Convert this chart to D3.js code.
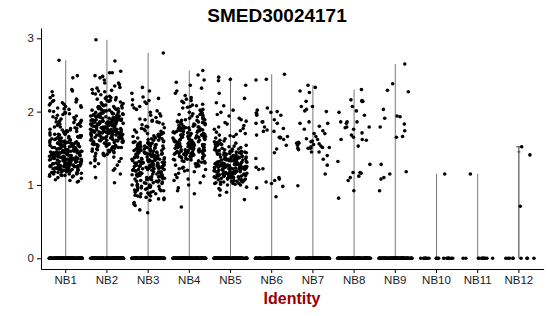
<!DOCTYPE html>
<html><head><meta charset="utf-8">
<script src="https://cdn.jsdelivr.net/npm/d3@7"></script>
<style>body{margin:0;background:#fff}svg{display:block}</style>
</head><body><svg id="c" width="550" height="316"></svg>
<script>
const title = "SMED30024171";
const xTitle = "Identity";
const categories = ["NB1","NB2","NB3","NB4","NB5","NB6","NB7","NB8","NB9","NB10","NB11","NB12"];
const yTicks = [0,1,2,3];
// number of cells with zero expression per identity
const zeroCounts = [160,160,160,150,150,140,140,130,120,20,12,9];
// non-zero expression values per identity
const nb1 = [1.04,1.05,1.06,1.07,1.09,
1.10,1.11,1.12,1.12,1.13,1.13,1.14,1.14,1.15,1.15,1.16,1.16,1.17,1.17,1.18,1.18,1.18,1.19,1.19,1.19,1.15,1.17,1.19,
1.20,1.20,1.20,1.21,1.21,1.21,1.21,1.22,1.22,1.22,1.22,1.23,1.23,1.23,1.23,1.24,1.24,1.24,1.24,1.25,1.25,1.25,1.25,1.26,1.26,1.26,1.26,1.27,1.27,1.27,1.27,1.28,1.28,1.28,1.28,1.29,1.29,1.29,1.29,1.20,1.22,1.24,1.26,1.28,1.25,
1.30,1.30,1.30,1.30,1.31,1.31,1.31,1.31,1.32,1.32,1.32,1.32,1.33,1.33,1.33,1.33,1.34,1.34,1.34,1.34,1.35,1.35,1.35,1.35,1.35,1.36,1.36,1.36,1.36,1.37,1.37,1.37,1.37,1.38,1.38,1.38,1.38,1.39,1.39,1.39,1.39,1.33,1.35,1.37,1.31,
1.40,1.40,1.40,1.40,1.41,1.41,1.41,1.41,1.42,1.42,1.42,1.42,1.43,1.43,1.43,1.43,1.44,1.44,1.44,1.44,1.45,1.45,1.45,1.45,1.45,1.46,1.46,1.46,1.46,1.47,1.47,1.47,1.47,1.48,1.48,1.48,1.48,1.49,1.49,1.49,1.49,1.42,1.44,1.46,1.48,
1.50,1.50,1.50,1.51,1.51,1.51,1.52,1.52,1.52,1.53,1.53,1.53,1.54,1.54,1.54,1.55,1.55,1.55,1.56,1.56,1.56,1.57,1.57,1.57,1.58,1.58,1.58,1.59,1.59,1.59,1.51,1.53,1.55,1.57,1.59,
1.60,1.60,1.61,1.61,1.62,1.62,1.63,1.63,1.64,1.64,1.65,1.65,1.66,1.66,1.67,1.67,1.68,1.68,1.69,1.69,1.61,1.63,1.65,1.67,1.69,
1.70,1.71,1.71,1.72,1.73,1.73,1.74,1.75,1.75,1.76,1.77,1.77,1.78,1.79,1.79,1.72,
1.80,1.81,1.82,1.83,1.84,1.85,1.86,1.87,1.88,1.89,1.83,1.86,
1.90,1.91,1.92,1.93,1.94,1.95,1.96,1.97,1.98,1.99,
2.00,2.01,2.03,2.04,2.05,2.06,2.07,2.08,2.09,
2.10,2.11,2.12,2.13,2.14,2.15,2.16,2.17,2.19,
2.22,2.27,2.28,2.30,2.46,2.49,2.70];
const nb2 = [1.03,1.10,1.15,1.20,1.22,
1.25,1.27,1.29,1.30,1.32,1.33,1.35,1.36,1.38,1.39,
1.40,1.41,1.42,1.43,1.43,1.44,1.45,1.46,1.46,1.47,1.48,1.48,1.49,1.49,
1.50,1.50,1.51,1.51,1.52,1.52,1.53,1.53,1.53,1.54,1.54,1.55,1.55,1.55,1.56,1.56,1.57,1.57,1.57,1.58,1.58,1.59,1.59,1.54,1.56,
1.60,1.60,1.60,1.61,1.61,1.61,1.62,1.62,1.62,1.63,1.63,1.63,1.64,1.64,1.64,1.65,1.65,1.65,1.66,1.66,1.66,1.67,1.67,1.67,1.68,1.68,1.68,1.69,1.69,1.69,1.61,1.63,1.65,1.67,1.69,
1.70,1.70,1.70,1.70,1.71,1.71,1.71,1.71,1.72,1.72,1.72,1.72,1.73,1.73,1.73,1.73,1.74,1.74,1.74,1.74,1.75,1.75,1.75,1.75,1.76,1.76,1.76,1.76,1.77,1.77,1.77,1.77,1.78,1.78,1.78,1.78,1.79,1.79,1.79,1.79,
1.80,1.80,1.80,1.80,1.81,1.81,1.81,1.81,1.82,1.82,1.82,1.82,1.83,1.83,1.83,1.83,1.84,1.84,1.84,1.84,1.85,1.85,1.85,1.85,1.86,1.86,1.86,1.86,1.87,1.87,1.87,1.87,1.88,1.88,1.88,1.88,1.89,1.89,1.89,1.89,
1.90,1.90,1.90,1.91,1.91,1.91,1.92,1.92,1.92,1.93,1.93,1.93,1.94,1.94,1.94,1.95,1.95,1.95,1.96,1.96,1.96,1.97,1.97,1.97,1.98,1.98,1.98,1.99,1.99,1.99,
2.00,2.00,2.01,2.01,2.02,2.02,2.03,2.03,2.04,2.04,2.05,2.05,2.06,2.06,2.07,2.07,2.08,2.08,2.09,2.09,
2.10,2.11,2.12,2.13,2.14,2.15,2.15,2.16,2.17,2.18,2.19,2.19,
2.20,2.21,2.23,2.24,2.25,2.27,2.28,2.29,
2.30,2.32,2.33,2.35,2.37,2.39,
2.39,2.43,2.46,2.48,2.49,2.53,2.53,2.55,2.69,2.98];
const nb3 = [0.62,0.66,0.72,0.74,0.76,0.79,
0.80,0.81,0.82,0.83,0.84,0.85,0.86,0.87,0.88,0.89,0.85,0.88,
0.90,0.90,0.91,0.92,0.92,0.93,0.94,0.94,0.95,0.96,0.96,0.97,0.98,0.98,0.99,0.99,0.93,0.97,
1.00,1.00,1.01,1.02,1.02,1.03,1.04,1.04,1.05,1.05,1.06,1.07,1.07,1.08,1.08,1.09,1.09,1.06,1.03,
1.10,1.10,1.11,1.11,1.12,1.12,1.13,1.13,1.14,1.14,1.15,1.15,1.15,1.16,1.16,1.17,1.17,1.18,1.18,1.19,1.19,1.12,1.14,1.16,1.18,
1.20,1.20,1.20,1.21,1.21,1.21,1.22,1.22,1.22,1.23,1.23,1.23,1.24,1.24,1.24,1.25,1.25,1.25,1.26,1.26,1.26,1.27,1.27,1.27,1.28,1.28,1.28,1.29,1.29,1.29,1.21,1.23,1.25,1.27,1.29,
1.30,1.30,1.30,1.31,1.31,1.31,1.32,1.32,1.32,1.33,1.33,1.33,1.34,1.34,1.34,1.35,1.35,1.35,1.36,1.36,1.36,1.37,1.37,1.37,1.38,1.38,1.38,1.39,1.39,1.39,1.30,1.32,1.34,1.35,1.36,1.38,1.31,1.33,
1.40,1.40,1.40,1.41,1.41,1.41,1.42,1.42,1.42,1.43,1.43,1.43,1.44,1.44,1.44,1.45,1.45,1.45,1.46,1.46,1.46,1.47,1.47,1.47,1.48,1.48,1.48,1.49,1.49,1.49,1.42,1.47,
1.50,1.50,1.51,1.51,1.52,1.52,1.53,1.53,1.54,1.54,1.55,1.55,1.55,1.56,1.56,1.57,1.57,1.58,1.58,1.59,1.59,1.51,1.53,1.56,1.58,
1.60,1.61,1.61,1.62,1.63,1.63,1.64,1.65,1.65,1.66,1.67,1.67,1.68,1.69,1.69,1.64,
1.70,1.71,1.72,1.73,1.74,1.75,1.76,1.77,1.78,1.79,
1.80,1.82,1.83,1.85,1.86,1.88,1.89,1.87,
1.90,1.92,1.94,1.95,1.97,1.99,
2.01,2.03,2.05,2.07,2.09,
2.11,2.13,2.15,2.16,2.18,
2.20,2.25,2.28,2.33,2.80];
const nb4 = [0.70,0.88,0.92,0.96,1.00,1.03,
1.06,1.08,1.10,1.12,1.14,1.16,1.18,1.19,
1.20,1.21,1.22,1.23,1.24,1.25,1.26,1.27,1.28,1.29,
1.30,1.30,1.31,1.31,1.32,1.32,1.33,1.33,1.34,1.34,1.35,1.35,1.36,1.36,1.37,1.37,1.38,1.38,1.39,1.39,
1.40,1.40,1.40,1.41,1.41,1.41,1.42,1.42,1.42,1.43,1.43,1.43,1.44,1.44,1.44,1.45,1.45,1.45,1.46,1.46,1.46,1.47,1.47,1.47,1.48,1.48,1.48,1.49,1.49,1.49,
1.50,1.50,1.50,1.51,1.51,1.51,1.52,1.52,1.52,1.53,1.53,1.53,1.54,1.54,1.54,1.55,1.55,1.55,1.56,1.56,1.56,1.57,1.57,1.57,1.58,1.58,1.58,1.59,1.59,1.59,1.53,1.57,
1.60,1.60,1.60,1.61,1.61,1.61,1.62,1.62,1.62,1.63,1.63,1.63,1.64,1.64,1.64,1.65,1.65,1.65,1.66,1.66,1.66,1.67,1.67,1.67,1.68,1.68,1.68,1.69,1.69,1.69,
1.70,1.70,1.71,1.71,1.72,1.72,1.73,1.73,1.74,1.74,1.75,1.75,1.75,1.76,1.76,1.77,1.77,1.78,1.78,1.79,1.79,1.72,1.74,1.76,1.78,
1.80,1.80,1.81,1.82,1.82,1.83,1.84,1.84,1.85,1.86,1.86,1.87,1.88,1.88,1.89,1.89,1.83,1.85,
1.90,1.91,1.92,1.93,1.94,1.95,1.96,1.97,1.98,1.99,1.92,1.96,
2.00,2.02,2.03,2.05,2.06,2.07,2.08,2.09,
2.10,2.12,2.14,2.15,2.17,2.19,
2.22,2.25,2.28,2.32,2.36,2.40,2.43,2.50,2.56];
const nb5 = [0.80,0.86,0.90,0.93,0.95,0.97,
1.00,1.00,1.01,1.01,1.02,1.02,1.03,1.03,1.04,1.04,1.05,1.05,1.05,1.06,1.06,1.07,1.07,1.08,1.08,1.09,1.09,1.02,1.04,1.06,1.08,
1.10,1.10,1.10,1.10,1.11,1.11,1.11,1.11,1.12,1.12,1.12,1.12,1.13,1.13,1.13,1.13,1.14,1.14,1.14,1.14,1.15,1.15,1.15,1.15,1.16,1.16,1.16,1.16,1.17,1.17,1.17,1.17,1.18,1.18,1.18,1.18,1.19,1.19,1.19,1.19,
1.20,1.20,1.20,1.20,1.21,1.21,1.21,1.21,1.22,1.22,1.22,1.22,1.23,1.23,1.23,1.23,1.24,1.24,1.24,1.24,1.25,1.25,1.25,1.25,1.26,1.26,1.26,1.26,1.27,1.27,1.27,1.27,1.28,1.28,1.28,1.28,1.29,1.29,1.29,1.29,1.23,1.27,
1.30,1.30,1.30,1.31,1.31,1.31,1.32,1.32,1.32,1.33,1.33,1.33,1.34,1.34,1.34,1.35,1.35,1.35,1.36,1.36,1.36,1.37,1.37,1.37,1.38,1.38,1.38,1.39,1.39,1.39,1.31,1.32,1.33,1.34,1.35,1.36,1.37,1.38,
1.40,1.40,1.41,1.41,1.42,1.42,1.43,1.43,1.44,1.44,1.45,1.45,1.45,1.46,1.46,1.47,1.47,1.48,1.48,1.49,1.49,1.42,1.44,1.46,1.48,
1.50,1.51,1.51,1.52,1.53,1.54,1.54,1.55,1.56,1.57,1.57,1.58,1.59,1.55,
1.60,1.61,1.63,1.64,1.66,1.67,1.68,1.69,
1.70,1.72,1.74,1.76,1.77,1.79,
1.81,1.83,1.85,1.87,1.89,
1.91,1.94,1.96,1.99,
2.02,2.08,2.12,2.18,
2.25,2.36,2.42,2.44,2.47];
const nb6 = [2.51,2.44,2.43,2.05,1.99,1.95,2.00,1.98,1.86,1.84,1.79,1.73,1.89,1.77,1.68,2.02,1.97,1.95,1.86,1.73,1.66,1.64,1.65,1.62,1.54,1.49,1.44,1.36,1.21,1.22,1.24,1.08,1.06,1.04,1.02,0.98,1.10,0.96,0.84,1.75,1.84,1.65];
const nb7 = [2.36,2.33,2.28,2.26,2.14,2.07,2.07,2.03,2.01,2.00,1.84,1.80,1.76,1.74,1.86,1.84,1.70,1.70,1.62,1.60,1.59,1.58,1.56,1.55,1.57,1.53,1.52,1.50,1.54,1.51,1.48,1.45,1.50,1.50,1.51,1.45,1.40,1.35,1.27,1.15,0.99,1.63,1.57,1.66];
const nb8 = [2.30,2.14,2.16,2.07,2.01,2.14,2.15,1.99,1.95,1.86,1.86,1.86,1.84,1.76,1.79,1.79,1.78,1.71,1.68,1.65,1.61,1.62,1.62,1.53,1.32,1.28,1.17,1.16,1.17,1.10,1.06,1.12,0.92,0.82];
const nb9 = [2.65,2.29,2.27,2.38,2.03,1.91,1.83,1.79,1.93,1.94,1.74,1.66,1.65,1.28,1.18,1.15,1.08,1.10,0.92];
const nb10 = [1.15];
const nb11 = [1.15];
const nb12 = [1.52,1.41,0.71];
const seriesValues = [nb1,nb2,nb3,nb4,nb5,nb6,nb7,nb8,nb9,nb10,nb11,nb12];

const svg = d3.select("#c");
const font = "'Liberation Sans', Arial, Helvetica, sans-serif";
const x = d3.scaleBand().domain(categories).range([41, 543.6]).paddingInner(0).paddingOuter(0.1);
const y = d3.scaleLinear().domain([-0.146, 3.14]).range([269, 28]);
const jw = x.bandwidth() * 0.4;
function hash(i, g) { const s = Math.sin(i * 12.9898 + g * 78.233 + 1.7) * 43758.5453; return s - Math.floor(s); }
const cx = c => x(c) + x.bandwidth() / 2;

// range lines
const lines = svg.append("g");
categories.forEach((c, g) => {
  const mx = d3.max(seriesValues[g]);
  lines.append("line").attr("x1", cx(c)).attr("x2", cx(c)).attr("y1", y(0)).attr("y2", y(mx))
    .attr("stroke", g === 11 ? "#333" : "#777").attr("stroke-width", 1);
  if (g === 11) {
    lines.append("line").attr("x1", cx(c) - 2.5).attr("x2", cx(c) + 2.5).attr("y1", y(mx)).attr("y2", y(mx)).attr("stroke", "#333");
    lines.append("line").attr("x1", cx(c) - 1.5).attr("x2", cx(c) + 1.5).attr("y1", y(1.45)).attr("y2", y(1.45)).attr("stroke", "#333");
  }
});

// points
const pts = [];
categories.forEach((c, g) => {
  for (let i = 0; i < zeroCounts[g]; i++) pts.push({c, v: 0, j: hash(i + 1000, g + 1)});
  seriesValues[g].forEach((v, i) => pts.push({c, v, j: hash(i, g + 1)}));
});
svg.append("g").selectAll("circle").data(pts).join("circle")
  .attr("cx", d => cx(d.c) + (d.j * 2 - 1) * jw)
  .attr("cy", d => y(d.v))
  .attr("r", 1.8).attr("fill", "#000");

// axes
const gx = svg.append("g").attr("transform", "translate(0,269)")
  .call(d3.axisBottom(x).tickSize(4).tickSizeOuter(0).tickPadding(3));
const gy = svg.append("g").attr("transform", "translate(41,0)")
  .call(d3.axisLeft(y).tickValues(yTicks).tickFormat(d3.format("d")).tickSize(4).tickSizeOuter(0).tickPadding(3));
[gx, gy].forEach(g => {
  g.select(".domain").attr("stroke", "#000").attr("stroke-width", 1);
  g.selectAll(".tick line").attr("stroke", "#000");
  g.selectAll(".tick text").attr("fill", "#1a1a1a").style("font-family", font).style("font-size", "11.5px");
});

svg.append("text").attr("x", 277).attr("y", 22).attr("text-anchor", "middle")
  .style("font-family", font).style("font-weight", "bold").style("font-size", "19px").attr("fill", "#000").text(title);
svg.append("text").attr("x", 292).attr("y", 304).attr("text-anchor", "middle")
  .style("font-family", font).style("font-weight", "bold").style("font-size", "16px").attr("fill", "#990000").text(xTitle);
</script></body></html>
